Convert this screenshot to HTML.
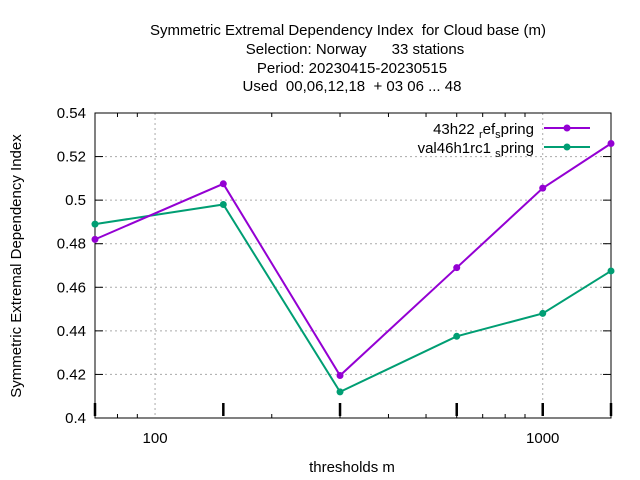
<!DOCTYPE html>
<html><head><meta charset="utf-8"><style>
body{margin:0;background:#fff}
svg{display:block;font-family:"Liberation Sans",sans-serif}
svg text{white-space:pre}
</style></head><body>
<svg id="chart" width="640" height="480" xml:space="preserve">
<g font-size="15" text-anchor="middle" fill="#000">
<text x="348" y="35">Symmetric Extremal Dependency Index  for Cloud base (m)</text>
<text x="355" y="54">Selection: Norway      33 stations</text>
<text x="352" y="73">Period: 20230415-20230515</text>
<text x="352" y="91">Used  00,06,12,18  + 03 06 ... 48</text>
</g>
<text x="352" y="472" font-size="15" text-anchor="middle">thresholds m</text>
<text transform="translate(21,266) rotate(-90)" font-size="15" text-anchor="middle">Symmetric Extremal Dependency Index</text>
<g id="grid"></g><g id="axes"></g><g id="series"></g>
<g font-size="15" text-anchor="end">
<text x="534" y="134">43h22 <tspan font-size="11" dy="4">r</tspan><tspan dy="-4">ef</tspan><tspan font-size="11" dy="4">s</tspan><tspan dy="-4">pring</tspan></text>
<line x1="544" y1="128" x2="590" y2="128" stroke="#9400d3" stroke-width="2"/>
<circle cx="567" cy="128" r="3.5" fill="#9400d3"/>
<text x="534" y="153">val46h1rc1 <tspan font-size="11" dy="4">s</tspan><tspan dy="-4">pring</tspan></text>
<line x1="544" y1="147" x2="590" y2="147" stroke="#009e73" stroke-width="2"/>
<circle cx="567" cy="147" r="3.5" fill="#009e73"/>
</g>
</svg>
<script>
const thresholds=[70,150,300,600,1000,1500];
const refValues=[0.482,0.5075,0.4195,0.469,0.5055,0.526];
const valValues=[0.489,0.498,0.412,0.4375,0.448,0.4675];
const yTicks=[0.4,0.42,0.44,0.46,0.48,0.5,0.52,0.54];
const yTickLabels=["0.4","0.42","0.44","0.46","0.48","0.5","0.52","0.54"];
const xLabelTicks=[100,1000];
const L=95,R=611,T=113,B=418,xmin=70,xmax=1500,ymin=0.4,ymax=0.54;
const NS="http://www.w3.org/2000/svg";
function X(v){return L+(Math.log10(v)-Math.log10(xmin))/(Math.log10(xmax)-Math.log10(xmin))*(R-L);}
function Y(v){return B-(v-ymin)/(ymax-ymin)*(B-T);}
function mk(p,t,a){const e=document.createElementNS(NS,t);for(const k in a)e.setAttribute(k,a[k]);p.appendChild(e);return e;}
const grid=document.getElementById('grid'),axes=document.getElementById('axes'),ser=document.getElementById('series');
yTicks.forEach((v,i)=>{
 if(i>0&&i<yTicks.length-1){const g=mk(grid,'line',{x1:L,x2:R,y1:Y(v),y2:Y(v),stroke:'#aaa','stroke-dasharray':'2,3'});
 
 }
 const t=mk(axes,'line',{x1:L,x2:L+8,y1:Y(v),y2:Y(v),stroke:'#000'});
 
 
 mk(axes,'line',{x1:R,x2:R-8,y1:Y(v),y2:Y(v),stroke:'#000'});
 const l=mk(axes,'text',{x:L-9,y:Y(v)+5,'font-size':15,'text-anchor':'end'});l.textContent=yTickLabels[i];
 
 
});
xLabelTicks.forEach(v=>{
 const g=mk(grid,'line',{x1:X(v),x2:X(v),y1:T,y2:B,stroke:'#aaa','stroke-dasharray':'2,3'});
 
 
 const l=mk(axes,'text',{x:X(v),y:B+25,'font-size':15,'text-anchor':'middle'});l.textContent=String(v);
 
 
});
[80,90,200,300,400,500,600,700,800,900,2000].forEach(v=>{if(v>=xmin&&v<=xmax){mk(axes,'line',{x1:X(v),x2:X(v),y1:B,y2:B-4,stroke:'#000'});mk(axes,'line',{x1:X(v),x2:X(v),y1:T,y2:T+4,stroke:'#000'});}});
thresholds.forEach(v=>{const t=mk(axes,'line',{x1:X(v),x2:X(v),y1:B-2,y2:B-15,stroke:'#000','stroke-width':2.5});
 
 });
const fr=mk(axes,'rect',{x:L,y:T,width:R-L,height:B-T,fill:'none',stroke:'#000'});


function draw(vals,col,name){
 const pl=mk(ser,'polyline',{points:vals.map((v,i)=>X(thresholds[i])+','+Y(v)).join(' '),fill:'none',stroke:col,'stroke-width':2});
 
 
 vals.forEach((v,i)=>{const c=mk(ser,'circle',{cx:X(thresholds[i]),cy:Y(v),r:3.5,fill:col});
 
 });
}
draw(valValues,'#009e73','val46h1rc1-series');
draw(refValues,'#9400d3','43h22-ref-series');
</script>
</body></html>
